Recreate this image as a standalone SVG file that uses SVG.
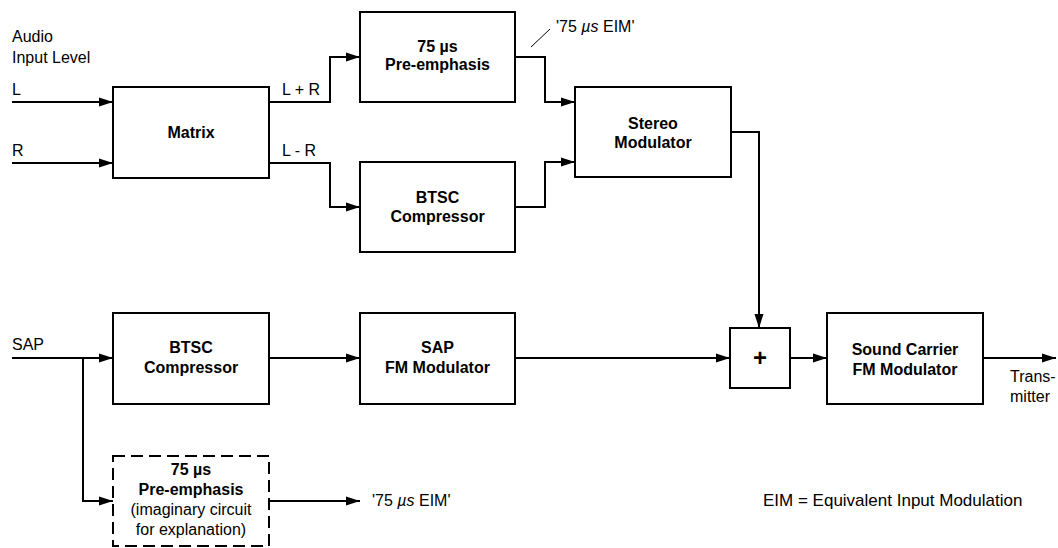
<svg xmlns="http://www.w3.org/2000/svg" width="1058" height="548" viewBox="0 0 1058 548">
<defs>
<marker id="arr" markerWidth="14" markerHeight="10" refX="14" refY="5" orient="auto" markerUnits="userSpaceOnUse">
<path d="M0,0.5 L14,5 L0,9.5 Z" fill="#000"/>
</marker>
<style>
.box{fill:#fff;stroke:#000;stroke-width:2}
.dash{fill:#fff;stroke:#000;stroke-width:2;stroke-dasharray:12,6}
.ln{fill:none;stroke:#000;stroke-width:2}
.b{font-family:"Liberation Sans",Arial,sans-serif;font-size:16px;font-weight:bold;text-anchor:middle;fill:#000}
.r{font-family:"Liberation Sans",Arial,sans-serif;font-size:16px;fill:#000}
.rc{font-family:"Liberation Sans",Arial,sans-serif;font-size:16px;text-anchor:middle;fill:#000}
</style>
</defs>
<rect width="1058" height="548" fill="#fff"/>
<g id="connectors">
<path class="ln" d="M12,102 H113" marker-end="url(#arr)"/>
<path class="ln" d="M12,163 H113" marker-end="url(#arr)"/>
<path class="ln" d="M269,102 H330 V57 H360" marker-end="url(#arr)"/>
<path class="ln" d="M269,163 H330 V207 H360" marker-end="url(#arr)"/>
<path class="ln" d="M515,57 H545 V102 H575" marker-end="url(#arr)"/>
<path class="ln" d="M515,207 H545 V162 H575" marker-end="url(#arr)"/>
<path class="ln" d="M731,132 H759 V328" marker-end="url(#arr)"/>
<path class="ln" d="M12,358 H113" marker-end="url(#arr)"/>
<path class="ln" d="M83,358 V501 H113" marker-end="url(#arr)"/>
<path class="ln" d="M269,358 H360" marker-end="url(#arr)"/>
<path class="ln" d="M515,358 H730" marker-end="url(#arr)"/>
<path class="ln" d="M790,358 H827" marker-end="url(#arr)"/>
<path class="ln" d="M983,358 H1056" marker-end="url(#arr)"/>
<path class="ln" d="M269,501 H360" marker-end="url(#arr)"/>
<path d="M531,47 L550,29" stroke="#000" stroke-width="1" fill="none"/>
</g>
<g id="labels">
<text class="r" x="12" y="42">Audio</text>
<text class="r" x="12" y="63">Input Level</text>
<text class="r" x="12" y="95">L</text>
<text class="r" x="12" y="156">R</text>
<text class="r" x="282" y="95">L + R</text>
<text class="r" x="282" y="156">L - R</text>
<text class="r" x="556" y="32">'75 <tspan font-style="italic">µs</tspan> EIM'</text>
<text class="r" x="12" y="350">SAP</text>
<text class="r" x="372" y="506">'75 <tspan font-style="italic">µs</tspan> EIM'</text>
<text class="r" x="1010" y="382">Trans-</text>
<text class="r" x="1010" y="402">mitter</text>
<text class="r" x="763" y="506" style="font-size:17px">EIM = Equivalent Input Modulation</text>
</g>
<g id="matrix"><rect class="box" x="113" y="87" width="156" height="91"/><text class="b" x="191" y="138">Matrix</text></g>
<g id="preemph"><rect class="box" x="360" y="12" width="155" height="90"/><text class="b" x="437.5" y="52">75 µs</text><text class="b" x="437.5" y="70">Pre-emphasis</text></g>
<g id="btsc1"><rect class="box" x="360" y="162" width="155" height="90"/><text class="b" x="437.5" y="203">BTSC</text><text class="b" x="437.5" y="222">Compressor</text></g>
<g id="stereo"><rect class="box" x="575" y="87" width="156" height="90"/><text class="b" x="653" y="129">Stereo</text><text class="b" x="653" y="148">Modulator</text></g>
<g id="btsc2"><rect class="box" x="113" y="313" width="156" height="91"/><text class="b" x="191" y="353">BTSC</text><text class="b" x="191" y="373">Compressor</text></g>
<g id="sapfm"><rect class="box" x="360" y="313" width="155" height="91"/><text class="b" x="437.5" y="353">SAP</text><text class="b" x="437.5" y="373">FM Modulator</text></g>
<g id="sum"><rect class="box" x="730" y="328" width="60" height="60"/><text class="b" x="760" y="366" style="font-size:24px">+</text></g>
<g id="carrier"><rect class="box" x="827" y="313" width="156" height="91"/><text class="b" x="905" y="355">Sound Carrier</text><text class="b" x="905" y="375">FM Modulator</text></g>
<g id="imaginary"><rect class="dash" x="113" y="456" width="156" height="90"/><text class="b" x="191" y="475">75 µs</text><text class="b" x="191" y="495">Pre-emphasis</text><text class="rc" x="191" y="515">(imaginary circuit</text><text class="rc" x="191" y="535">for explanation)</text></g>
</svg>
